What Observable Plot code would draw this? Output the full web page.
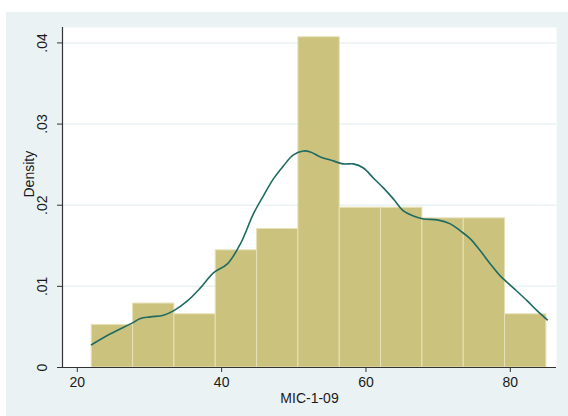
<!DOCTYPE html>
<html>
<head>
<meta charset="utf-8">
<script src="https://cdn.jsdelivr.net/npm/d3@7"></script>
<script src="https://cdn.jsdelivr.net/npm/@observablehq/plot@0.6"></script>
<style>
  html, body { margin: 0; padding: 0; background: #ffffff; }
  #wrap { position: relative; width: 568px; height: 416px; overflow: hidden; }
  #bg { position: absolute; left: 6px; top: 12px; right: 0; bottom: 0; background: #eaf2f3; }
  #chart { position: absolute; left: 0; top: 0; }
</style>
</head>
<body>
<div id="wrap"><div id="bg"></div><div id="chart"></div></div>
<script>
// Histogram bin edges (MIC-1-09) and densities
const binEdges = [22, 27.727, 33.455, 39.182, 44.909, 50.636, 56.364, 62.091, 67.818, 73.545, 79.273, 85];
const densities = [0.00525, 0.00788, 0.00656, 0.01444, 0.01707, 0.04070, 0.01969, 0.01969, 0.01838, 0.01838, 0.00656];

// Kernel density curve
const kdeX = [21.97, 24.6, 27.65, 28.75, 30.14, 31.94, 33.32, 35.26, 37.06, 38.86, 40.8, 42.6, 44.4, 45.79, 47.17, 48.56, 49.94, 51.33, 52.3, 53.68, 55.07, 56.87, 58.25, 59.64, 61.02, 62.41, 63.79, 65.18, 66.56, 67.95, 69.89, 71.69, 73.07, 74.46, 75.84, 77.23, 78.61, 80.41, 82.35, 83.74, 85.12];
const kdeY = [0.0028, 0.00415, 0.0055, 0.00605, 0.00624, 0.00645, 0.00698, 0.00821, 0.00981, 0.01166, 0.01277, 0.01523, 0.01893, 0.02115, 0.02324, 0.02484, 0.0262, 0.02669, 0.02656, 0.02595, 0.02558, 0.02509, 0.02509, 0.02459, 0.02336, 0.02213, 0.02078, 0.0193, 0.01868, 0.01831, 0.01819, 0.0177, 0.01684, 0.01585, 0.01438, 0.01277, 0.01129, 0.00982, 0.00821, 0.00698, 0.00588];

const xTicks = [20, 40, 60, 80];
const yTicks = [0, 0.01, 0.02, 0.03, 0.04];
const yTickLabels = ["0", ".01", ".02", ".03", ".04"];
const xLabel = "MIC-1-09";
const yLabel = "Density";

const bins = densities.map((d, i) => ({x0: binEdges[i], x1: binEdges[i + 1], d}));
const kde = kdeX.map((x, i) => ({x, y: kdeY[i]}));
const yLab = yTicks.map((v, i) => ({v, t: yTickLabels[i]}));

const font = "'Liberation Sans', Arial, Helvetica, sans-serif";

const chart = Plot.plot({
  width: 568,
  height: 416,
  marginLeft: 62,
  marginRight: 12,
  marginTop: 27,
  marginBottom: 49,
  style: {background: "transparent", fontFamily: font, fontSize: "14px", color: "#1a1a1a"},
  x: {domain: [17.95, 86.4]},
  y: {domain: [0, 0.0419]},
  marks: [
    Plot.frame({fill: "white", stroke: null}),
    Plot.ruleY(yTicks.slice(1), {stroke: "#eaf2f3", strokeWidth: 1.5}),
    Plot.rectY(bins, {x1: "x0", x2: "x1", y: "d", fill: "#cac27d", stroke: "#e7e1b8", strokeWidth: 1}),
    Plot.line(kde, {x: "x", y: "y", stroke: "#1f6b62", strokeWidth: 1.6, curve: "catmull-rom"}),
    Plot.ruleY([0], {stroke: "#333333", strokeWidth: 1.2}),
    Plot.axisX({ticks: xTicks, tickSize: 5, tickPadding: 5, fontSize: 14, label: null, stroke: "#333"}),
    Plot.axisY({ticks: yTicks, tickSize: 5, tickFormat: () => "", label: null, stroke: "#333"}),
    Plot.ruleX([17.95], {stroke: "#333333", strokeWidth: 1.2}),
    Plot.text(yLab, {y: "v", text: "t", frameAnchor: "left", dx: -20, rotate: -90, fontSize: 14, textAnchor: "middle", lineAnchor: "middle", fill: "#1a1a1a"}),
    Plot.text([yLabel], {frameAnchor: "left", dx: -33, rotate: -90, fontSize: 14, lineAnchor: "middle", fill: "#1a1a1a"}),
    Plot.text([xLabel], {frameAnchor: "bottom", dy: 31, fontSize: 14, lineAnchor: "middle", fill: "#1a1a1a"})
  ]
});
document.getElementById("chart").appendChild(chart);
</script>
</body>
</html>
